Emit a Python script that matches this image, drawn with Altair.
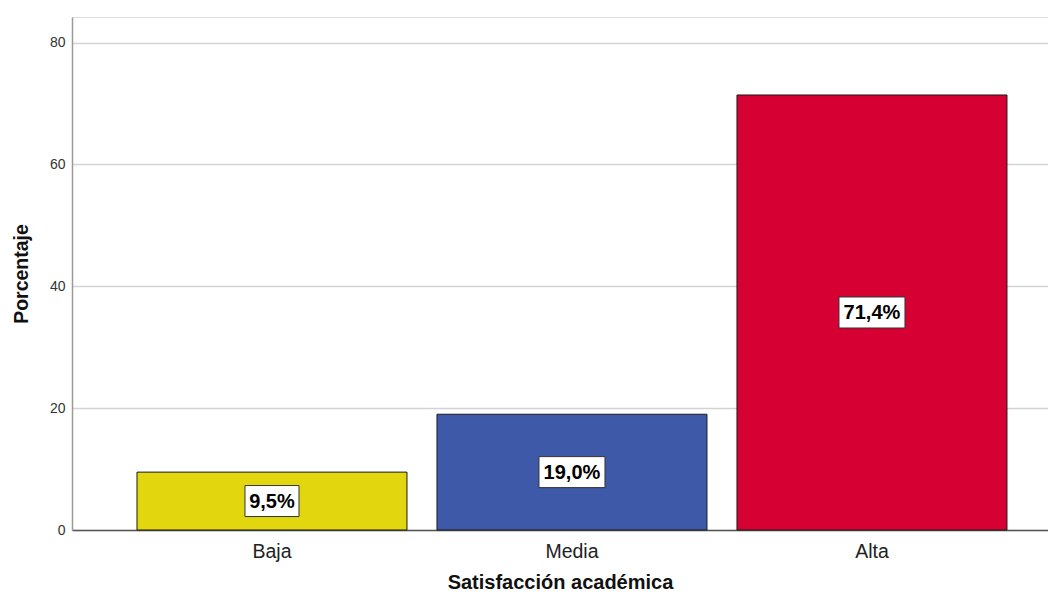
import altair as alt
import pandas as pd

categories = ["Baja", "Media", "Alta"]
percentages = [9.5, 19.0, 71.4]
bar_colors = ["#E2D60E", "#3E59A8", "#D70032"]
y_ticks = [0, 20, 40, 60, 80]

df = pd.DataFrame({"cat": categories, "pct": percentages, "color": bar_colors})

FONT = "Liberation Sans"

x_enc = alt.X(
    "cat:N",
    sort=categories,
    scale=alt.Scale(paddingInner=0.1, paddingOuter=0.1767, align=0.613),
    axis=alt.Axis(
        title="Satisfacción académica",
        labelAngle=0,
        ticks=False,
        labelFontSize=19.5,
        labelColor="#222222",
        labelFont=FONT,
        labelPadding=12,
        titleFont=FONT,
        titleFontSize=20,
        titleFontWeight="bold",
        titleColor="#111111",
        titlePadding=12,
        domainColor="#555555",
        domainWidth=1.5,
        grid=False,
    ),
)

y_scale = alt.Scale(domain=[0, 84.2], nice=False, zero=True)

bars = alt.Chart(df).mark_bar(stroke="#1a1a1a", strokeWidth=1).encode(
    x=x_enc,
    y=alt.Y(
        "pct:Q",
        scale=y_scale,
        axis=alt.Axis(
            title="Porcentaje",
            values=y_ticks,
            ticks=False,
            labelFontSize=14,
            labelColor="#333333",
            labelFont=FONT,
            labelPadding=7,
            titleFont=FONT,
            titleFontSize=19.5,
            titleFontWeight="bold",
            titleColor="#111111",
            titlePadding=18,
            domainColor="#9a9a9a",
            domainWidth=1.5,
            grid=True,
            gridColor="#d3d3d3",
            gridWidth=1.5,
        ),
    ),
    fill=alt.Fill("color:N", scale=None),
)

base = alt.Chart(df).transform_calculate(
    mid="datum.pct / 2",
    label="replace(format(datum.pct, '.1f'), '.', ',') + '%'",
).transform_calculate(
    hw="(12 * length(datum.label) + 6) / 2",
).transform_calculate(
    box="'M' + (-datum.hw) + ',-15.5H' + datum.hw + 'V15.5H' + (-datum.hw) + 'Z'",
)

boxes = base.mark_point(
    filled=True, fill="white", stroke="#333333", strokeWidth=1, opacity=1, size=4
).encode(
    x=alt.X("cat:N", sort=categories),
    y=alt.Y("mid:Q", scale=y_scale),
    shape=alt.Shape("box:N", scale=None),
)

texts = base.mark_text(
    font=FONT, fontSize=20, fontWeight="bold", color="#000000", baseline="middle", dy=1
).encode(
    x=alt.X("cat:N", sort=categories),
    y=alt.Y("mid:Q", scale=y_scale),
    text="label:N",
)

chart = alt.layer(bars, boxes, texts).properties(
    width=976,
    height=513,
    autosize=alt.AutoSizeParams(type="none"),
    padding={"left": 64, "top": 9, "right": 0, "bottom": 63},
).configure_view(stroke=None).configure(background="white")

chart.save("out.html", embed_options={"renderer": "svg", "actions": False})
